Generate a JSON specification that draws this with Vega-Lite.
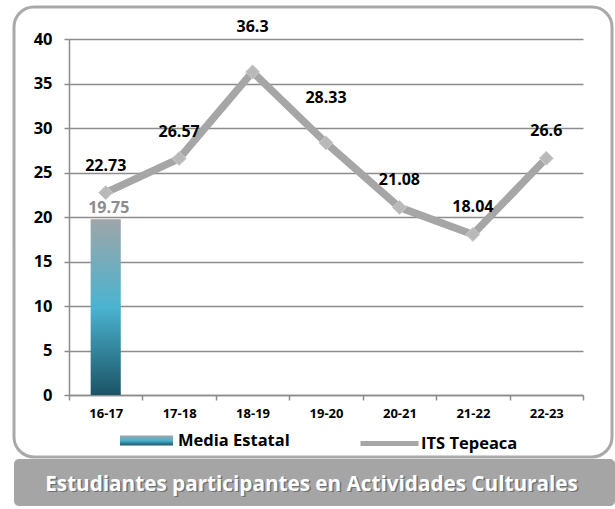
{
  "$schema": "https://vega.github.io/schema/vega-lite/v6.json",
  "background": "white",
  "padding": {"left": 12, "top": 5, "right": 0, "bottom": 0},
  "spacing": 0,
  "datasets": {
    "ciclos": [
      {"periodo": "16-17", "its": 22.73, "media": 19.75},
      {"periodo": "17-18", "its": 26.57, "media": null},
      {"periodo": "18-19", "its": 36.3, "media": null},
      {"periodo": "19-20", "its": 28.33, "media": null},
      {"periodo": "20-21", "its": 21.08, "media": null},
      {"periodo": "21-22", "its": 18.04, "media": null},
      {"periodo": "22-23", "its": 26.6, "media": null}
    ],
    "titulo": [{"texto": "Estudiantes participantes en Actividades Culturales"}]
  },
  "vconcat": [
    {
      "width": 598,
      "height": 450,
      "view": {"stroke": "#a9a9a9", "strokeWidth": 3, "cornerRadius": 20, "fill": "white"},
      "data": {"name": "ciclos"},
      "encoding": {
        "x": {
          "field": "periodo",
          "type": "nominal",
          "sort": null,
          "scale": {"range": [55, 569], "paddingInner": 0, "paddingOuter": 0},
          "axis": {
            "title": null,
            "orient": "bottom",
            "offset": -62,
            "labelAngle": 0,
            "labelFont": "Open Sans",
            "labelFontSize": 13,
            "labelFontWeight": "bold",
            "labelColor": "#000000",
            "labelPadding": 7,
            "tickBand": "extent",
            "tickSize": 5,
            "tickColor": "#8c8c8c",
            "tickWidth": 1.5,
            "domainColor": "#8c8c8c",
            "domainWidth": 1.5,
            "grid": false
          }
        }
      },
      "layer": [
        {
          "transform": [{"filter": "datum.media != null"}],
          "mark": {
            "type": "bar",
            "width": {"band": 0.41},
            "fill": {"gradient": "linear", "x1": 0, "y1": 0, "x2": 0, "y2": 1, "stops": [{"offset": 0, "color": "#9ea5a8"}, {"offset": 0.5, "color": "#4bb3d0"}, {"offset": 1, "color": "#1b5466"}]}
          },
          "encoding": {
            "y": {
              "field": "media",
              "type": "quantitative",
              "scale": {"domain": [0, 40], "range": [388, 32], "nice": false},
              "axis": {
                "title": null,
                "orient": "left",
                "offset": -55,
                "values": [0, 5, 10, 15, 20, 25, 30, 35, 40],
                "labelFont": "Open Sans",
                "labelFontSize": 16.5,
                "labelFontWeight": "bold",
                "labelColor": "#000000",
                "labelPadding": 12,
                "tickSize": 5,
                "tickColor": "#8c8c8c",
                "tickWidth": 1.5,
                "domainColor": "#8c8c8c",
                "domainWidth": 1.5,
                "grid": true,
                "gridColor": "#8c8c8c",
                "gridWidth": 1.3
              }
            },
            "opacity": {
              "datum": "Media Estatal",
              "type": "ordinal",
              "scale": {"range": [1]},
              "legend": {
                "title": null,
                "orient": "none",
                "legendX": 106,
                "legendY": 407,
                "symbolType": "M-1,-0.19H1V0.19H-1Z",
                "symbolSize": 2809,
                "symbolStrokeWidth": 0,
                "labelFont": "Open Sans",
                "labelFontSize": 16.5,
                "labelFontWeight": "bold",
                "labelColor": "#000000",
                "labelOffset": 5
              }
            }
          }
        },
        {
          "mark": {"type": "line", "strokeWidth": 7.5, "strokeCap": "round", "strokeJoin": "round"},
          "encoding": {
            "y": {"field": "its", "type": "quantitative"},
            "stroke": {
              "datum": "ITS Tepeaca",
              "type": "nominal",
              "scale": {"range": ["#a6a6a6"]},
              "legend": {
                "title": null,
                "orient": "none",
                "legendX": 344,
                "legendY": 405,
                "symbolType": "stroke",
                "symbolSize": 3364,
                "symbolStrokeWidth": 5,
                "labelFont": "Open Sans",
                "labelFontSize": 16.5,
                "labelFontWeight": "bold",
                "labelColor": "#000000",
                "labelOffset": 0
              }
            }
          }
        },
        {
          "mark": {"type": "point", "shape": "diamond", "size": 196, "filled": true, "fill": "#b9b9b9", "stroke": "#cdcdcd", "strokeWidth": 1, "opacity": 1},
          "encoding": {"y": {"field": "its", "type": "quantitative"}}
        },
        {
          "transform": [{"filter": "datum.media != null"}],
          "mark": {"type": "text", "font": "Open Sans", "fontSize": 16, "fontWeight": "bold", "color": "#8c8c8c", "baseline": "alphabetic", "dy": -6, "dx": 3},
          "encoding": {
            "y": {"field": "media", "type": "quantitative"},
            "text": {"field": "media", "type": "quantitative", "format": ".2f"}
          }
        },
        {
          "transform": [{"filter": "datum.periodo != '18-19' && datum.periodo != '19-20'"}],
          "mark": {"type": "text", "font": "Open Sans", "fontSize": 16, "fontWeight": "bold", "color": "#000000", "baseline": "alphabetic", "dy": -22},
          "encoding": {
            "y": {"field": "its", "type": "quantitative"},
            "text": {"field": "its", "type": "nominal"}
          }
        },
        {
          "transform": [{"filter": "datum.periodo == '18-19' || datum.periodo == '19-20'"}],
          "mark": {"type": "text", "font": "Open Sans", "fontSize": 16, "fontWeight": "bold", "color": "#000000", "baseline": "alphabetic", "dy": -40},
          "encoding": {
            "y": {"field": "its", "type": "quantitative"},
            "text": {"field": "its", "type": "nominal"}
          }
        }
      ]
    },
    {
      "width": 601,
      "height": 47,
      "view": {"stroke": null, "fill": "#a5a5a5", "cornerRadius": 5},
      "data": {"name": "titulo"},
      "layer": [
        {
          "mark": {"type": "text", "font": "Open Sans", "fontSize": 20.7, "fontWeight": "bold", "color": "#5a5a5a", "opacity": 0.7, "dx": -1.5, "dy": 3.5},
          "encoding": {"text": {"field": "texto", "type": "nominal"}}
        },
        {
          "mark": {"type": "text", "font": "Open Sans", "fontSize": 20.7, "fontWeight": "bold", "color": "#ffffff", "dx": -3, "dy": 2},
          "encoding": {"text": {"field": "texto", "type": "nominal"}}
        }
      ]
    }
  ]
}
